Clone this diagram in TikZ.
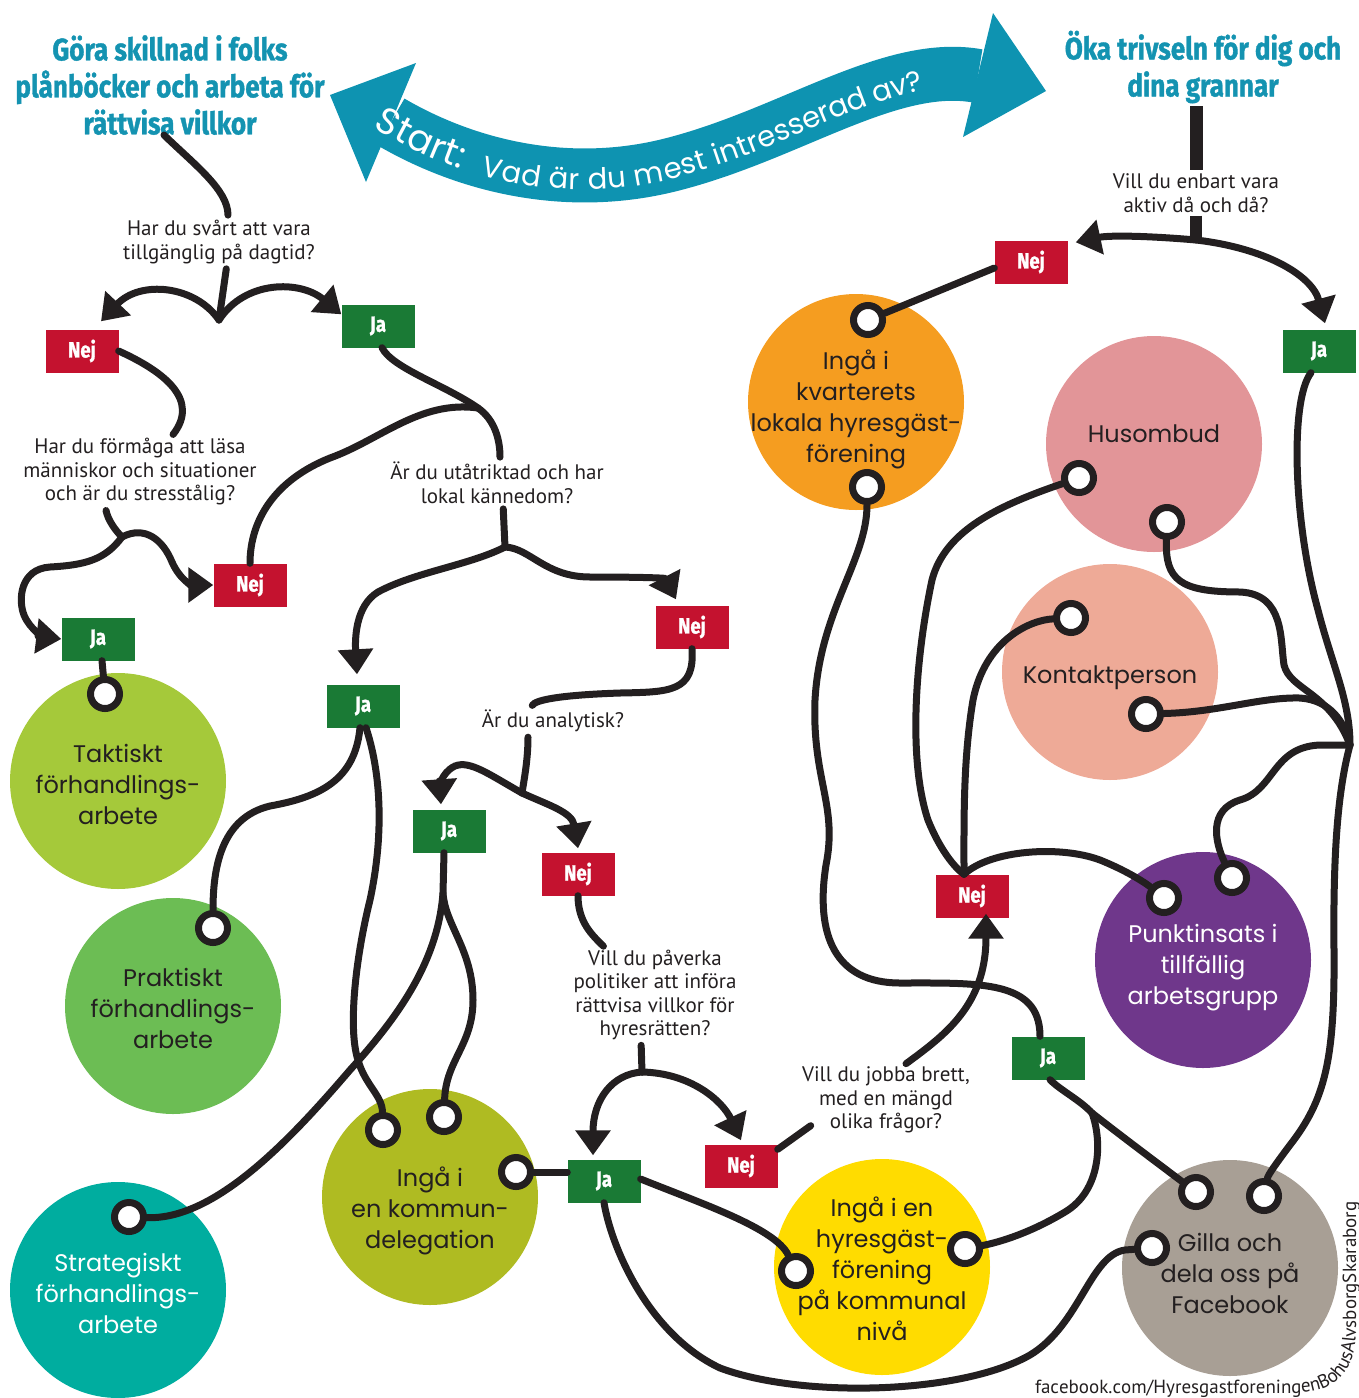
\documentclass[tikz,border=0pt]{standalone}
\usepackage{fontspec}
\usepackage{tikz}
\usetikzlibrary{arrows.meta}
\usetikzlibrary{decorations.text}
\setmainfont{PT Sans}
\newfontfamily\headfont{Fira Sans}[FakeStretch=0.84, BoldFeatures={FakeBold=1.2}]
\newfontfamily\handfont{Poppins}
\definecolor{headteal}{HTML}{1493B1}
\definecolor{bandteal}{HTML}{0E93B1}
\definecolor{nejred}{HTML}{C4122F}
\definecolor{jagreen}{HTML}{1A7A35}
\definecolor{wirecol}{HTML}{231F20}
\definecolor{taktgreen}{HTML}{A5C93A}
\definecolor{praktgreen}{HTML}{6CBD54}
\definecolor{strateal}{HTML}{00AD9F}
\definecolor{kommolive}{HTML}{AFBB22}
\definecolor{kvarorange}{HTML}{F59D20}
\definecolor{huspink}{HTML}{E29598}
\definecolor{kontsalmon}{HTML}{EEAA97}
\definecolor{punktpurple}{HTML}{6F378B}
\definecolor{nivayellow}{HTML}{FFDC00}
\definecolor{fbgrey}{HTML}{A89F95}

\tikzset{
  wire/.style={draw=wirecol, line width=7pt, line cap=round},
  arrowwire/.style={wire, -{Triangle[width=34pt,length=25pt]}},
  choice/.style={minimum width=73pt, minimum height=43pt, inner sep=0pt, text=white,
    font=\headfont\bfseries\fontsize{22}{22}\selectfont},
  ja/.style={choice, fill=jagreen},
  nej/.style={choice, fill=nejred},
  question/.style={align=center, inner sep=0pt, text=wirecol, font=\fontsize{21}{23.5}\selectfont},
  heading/.style={align=center, inner sep=0pt, text=headteal, font=\headfont\bfseries\fontsize{31}{37}\selectfont},
  answer/.style={circle, minimum size=216pt, inner sep=0pt},
  answertext/.style={align=center, inner sep=0pt, text=wirecol, font=\handfont\fontsize{24}{31}\selectfont},
  port/.style={circle, draw=wirecol, fill=white, line width=7pt, minimum size=29pt, inner sep=0pt}
}

\begin{document}
\begin{tikzpicture}[x=1pt, y=-1pt]
            \useasboundingbox (0,0) rectangle (1359,1398);

            \fill[bandteal] (330,95) -- (416,63) -- (366,182) -- cycle;
            \fill[bandteal] (1046,91) -- (993,13) -- (963,137) -- cycle;
            \draw[bandteal, line width=54pt] (391,122) .. controls (470,168) and (570,190) .. (670,165)
                .. controls (790,135) and (890,60) .. (978,76);
            \path[decorate, decoration={text along path, text color=white, raise=-14pt, text align={left indent=9pt},
                text={|\handfont\fontsize{37}{37}\selectfont|Start:{\kern9pt} |\handfont\fontsize{29}{29}\selectfont|Vad är du mest intresserad av?}}]
                (372,111) -- (391,122) .. controls (470,168) and (570,190) .. (670,165)
                .. controls (790,135) and (890,60) .. (978,76);

            \node[heading] (headL) at (170,85) {Göra skillnad i folks\\plånböcker och arbeta för\\rättvisa villkor};
            \node[heading] (headR) at (1203,67) {Öka trivseln för dig och\\dina grannar};

            \node[question] (q1) at (219,242) {Har du svårt att vara\\tillgänglig på dagtid?};
            \node[question] (q2) at (140,472) {Har du förmåga att läsa\\människor och situationer\\och är du stresstålig?};
            \node[question] (q3) at (497,483) {Är du utåtriktad och har\\lokal kännedom?};
            \node[question] (q4) at (553,721) {Är du analytisk?};
            \node[question] (q5) at (655,995) {Vill du påverka\\politiker att införa\\rättvisa villkor för\\hyresrätten?};
            \node[question] (q6) at (886,1100) {Vill du jobba brett,\\med en mängd\\olika frågor?};
            \node[question] (q7) at (1196,193) {Vill du enbart vara\\aktiv då och då?};

            \node[answer, fill=taktgreen, label={[answertext, yshift=-3pt]center:Taktiskt\\förhandlings-\\arbete}] (taktiskt) at (118,781) {};
            \node[answer, fill=praktgreen, label={[answertext, yshift=-2pt]center:Praktiskt\\förhandlings-\\arbete}] (praktiskt) at (173,1006) {};
            \node[answer, fill=strateal, label={[answertext, text=white, yshift=-3pt]center:Strategiskt\\förhandlings-\\arbete}] (strategiskt) at (118,1290) {};
            \node[answer, fill=kommolive, label={[answertext, yshift=-14pt]center:Ingå i\\en kommun-\\delegation}] (kommun) at (430,1197) {};
            \node[answer, fill=kvarorange, label={[answertext, yshift=-7pt]center:Ingå i\\kvarterets\\lokala hyresgäst-\\förening}] (kvarter) at (856,402) {};
            \node[answer, fill=huspink, label={[answertext, yshift=10pt]center:Husombud}] (husombud) at (1154,444) {};
            \node[answer, fill=kontsalmon, label={[answertext, yshift=-6pt]center:Kontaktperson}] (kontakt) at (1110,672) {};
            \node[answer, fill=punktpurple, label={[answertext, text=white, yshift=-8pt]center:Punktinsats i\\tillfällig\\arbetsgrupp}] (punkt) at (1203,960) {};
            \node[answer, fill=nivayellow, label={[answertext, yshift=-2pt]center:Ingå i en\\hyresgäst-\\förening\\på kommunal\\nivå}] (niva) at (882,1267) {};
            \node[answer, fill=fbgrey, label={[answertext, yshift=-5pt]center:Gilla och\\dela oss på\\Facebook}] (facebook) at (1230,1268) {};

            \node[port] (pT) at (105,694) {};
            \node[port] (pP) at (213,928) {};
            \node[port] (pS) at (129,1217) {};
            \node[port] (pK1) at (383,1130) {};
            \node[port] (pK2) at (444,1117) {};
            \node[port] (pK3) at (516,1172) {};
            \node[port] (pV1) at (868,320) {};
            \node[port] (pV2) at (867,487) {};
            \node[port] (pH1) at (1079,478) {};
            \node[port] (pH2) at (1167,522) {};
            \node[port] (pC1) at (1071,618) {};
            \node[port] (pC2) at (1146,714) {};
            \node[port] (pU1) at (1164,898) {};
            \node[port] (pU2) at (1232,878) {};
            \node[port] (pN1) at (796,1271) {};
            \node[port] (pN2) at (965,1249) {};
            \node[port] (pF1) at (1196,1192) {};
            \node[port] (pF2) at (1264,1196) {};
            \node[port] (pF3) at (1152,1248) {};

            \node[nej] (nej1) at (82,351) {Nej};
            \node[ja] (ja1) at (378,326) {Ja};
            \node[nej] (nej2) at (250,585) {Nej};
            \node[ja] (ja2) at (98,639) {Ja};
            \node[nej] (nej3) at (692,627) {Nej};
            \node[ja] (ja3) at (363,706) {Ja};
            \node[ja] (ja4) at (449,831) {Ja};
            \node[nej] (nej4) at (578,874) {Nej};
            \node[ja] (ja5) at (604,1181) {Ja};
            \node[nej] (nej5) at (741,1166) {Nej};
            \node[nej] (nej6) at (972,896) {Nej};
            \node[ja] (ja6) at (1048,1058) {Ja};
            \node[nej] (nej7) at (1031,262) {Nej};
            \node[ja] (ja7) at (1319,351) {Ja};

            \coordinate (j1) at (219,320);
            \coordinate (j2) at (122,537);
            \coordinate (j3) at (478,408);
            \coordinate (j4) at (505,547);
            \coordinate (j5) at (522,793);
            \coordinate (j6) at (443,893);
            \coordinate (j7) at (642,1072);
            \coordinate (j8) at (1196,240);
            \coordinate (j9) at (1092,1113);
            \coordinate (hub) at (1350,745);

            \draw[wire, shorten >=5pt] ([xshift=-6pt]headL.south) .. controls (195,165) and (228,190) .. ([xshift=9pt]q1.north);
            \draw[wire, shorten <=5pt] ([xshift=8pt]q1.south) -- (j1);
            \draw[arrowwire] (j1) .. controls (195,285) and (140,280) .. ([xshift=19pt,yshift=8pt]nej1.north);
            \draw[arrowwire] (j1) .. controls (245,280) and (300,280) .. ([yshift=-10pt]ja1.north west);
            \draw[wire, shorten >=5pt] (nej1.east) .. controls (165,372) and (200,400) .. ([xshift=30pt]q2.north);
            \draw[wire, shorten <=5pt] ([xshift=-35pt]q2.south) .. controls (108,520) and (115,530) .. (j2);
            \draw[arrowwire] (j2) .. controls (105,560) and (85,565) .. (50,567) .. controls (20,569) and (18,600) .. (24,615)
                .. controls (30,630) and (45,637) .. (ja2.west);
            \draw[arrowwire] (j2) .. controls (145,525) and (163,540) .. (172,562) .. controls (180,580) and (192,585) .. (nej2.west);
            \draw[wire] ([xshift=4pt]ja2.south) -- (pT);

            \draw[wire, shorten >=5pt] ([xshift=4pt]ja1.south) .. controls (392,368) and (445,385) .. (j3) .. controls (495,420) and (500,440) .. ([xshift=3pt]q3.north);
            \draw[wire] (j3) .. controls (420,400) and (380,440) .. (330,458) .. controls (275,480) and (250,520) .. (nej2.north);
            \draw[wire, shorten <=5pt] ([xshift=6pt]q3.south) -- (j4);
            \draw[arrowwire] (j4) .. controls (470,565) and (415,572) .. (378,592) .. controls (355,606) and (355,640) .. ([xshift=-6pt,yshift=10pt]ja3.north);
            \draw[arrowwire] (j4) .. controls (530,548) and (545,577) .. (590,577) .. controls (640,577) and (665,578) .. ([xshift=-16pt,yshift=6pt]nej3.north);
            \draw[wire, shorten >=5pt] (nej3.south) .. controls (695,692) and (670,692) .. (620,693) .. controls (560,695) and (535,700) .. ([xshift=-23pt]q4.north);
            \draw[wire, shorten <=5pt] ([xshift=-25pt]q4.south) .. controls (528,760) and (524,780) .. (j5);
            \draw[arrowwire] (j5) .. controls (490,775) and (470,760) .. (455,766) .. controls (440,773) and (440,790) .. ([xshift=-8pt,yshift=5pt]ja4.north);
            \draw[arrowwire] (j5) .. controls (548,805) and (572,812) .. ([yshift=4pt]nej4.north);

            \draw[wire] ([xshift=-3pt]ja3.south) .. controls (355,780) and (320,797) .. (270,806) .. controls (220,818) and (213,870) .. (pP);
            \draw[wire] ([xshift=3pt]ja3.south) .. controls (380,770) and (385,830) .. (370,900) .. controls (355,960) and (348,1030) .. (358,1060)
                .. controls (365,1085) and (382,1095) .. (pK1);
            \draw[wire] ([xshift=-5pt]ja4.south) -- (j6) .. controls (445,925) and (473,950) .. (473,1000) .. controls (473,1045) and (446,1060) .. (pK2);
            \draw[wire] (j6) .. controls (438,960) and (400,1015) .. (350,1070) .. controls (290,1140) and (215,1220) .. (pS);

            \draw[wire, shorten >=5pt] (nej4.south) .. controls (578,922) and (592,935) .. ([xshift=-48pt]q5.north);
            \draw[wire, shorten <=5pt] ([xshift=-14pt]q5.south) -- (j7);
            \draw[arrowwire] (j7) .. controls (612,1074) and (593,1100) .. ([xshift=-11pt,yshift=4pt]ja5.north);
            \draw[arrowwire] (j7) .. controls (690,1073) and (722,1100) .. ([yshift=4pt]nej5.north);
            \draw[wire] (pK3) -- (ja5.west |- pK3);
            \draw[wire] ([yshift=2pt]ja5.east) .. controls (700,1203) and (775,1228) .. (pN1);
            \draw[wire] (ja5.south) .. controls (612,1250) and (650,1335) .. (720,1368) .. controls (800,1398) and (960,1395) .. (1030,1355)
                .. controls (1080,1325) and (1090,1255) .. (1125,1250) -- (pF3);
            \draw[wire, shorten >=4pt] ([yshift=-5pt]nej5.north east) -- ([xshift=12pt,yshift=10pt]q6.south west);
            \draw[arrowwire, shorten <=5pt] ([xshift=16pt]q6.north) .. controls (945,1035) and (986,1005) .. ([xshift=14pt,yshift=4pt]nej6.south);

            \draw[wire, line width=13pt, line cap=butt, shorten >=3pt] ([xshift=-7pt,yshift=-3pt]headR.south) -- (q7.north);
            \draw[wire, line width=12pt, line cap=butt, shorten <=3pt] (q7.south) -- (j8);
            \draw[arrowwire] (j8) .. controls (1150,236) and (1110,235) .. ([xshift=8pt,yshift=-2pt]nej7.north east);
            \draw[arrowwire] (j8) .. controls (1265,248) and (1312,275) .. ([xshift=6pt,yshift=6pt]ja7.north);
            \draw[wire] ([yshift=-6pt]nej7.west) -- (pV1);
            \draw[wire] (pV2) .. controls (867,560) and (820,610) .. (815,700) .. controls (812,780) and (838,805) .. (826,865)
                .. controls (815,935) and (835,983) .. (900,983) .. controls (980,983) and (1040,980) .. ([xshift=-8pt]ja6.north);
            \draw[wire] ([xshift=2pt]ja6.south) .. controls (1060,1090) and (1080,1100) .. (j9);
            \draw[wire] (j9) .. controls (1102,1140) and (1102,1190) .. (1065,1212) .. controls (1030,1233) and (1000,1242) .. (pN2);
            \draw[wire] (j9) .. controls (1120,1135) and (1160,1165) .. (pF1);

            \draw[wire] (pH1) .. controls (1000,505) and (945,530) .. (932,580) .. controls (915,660) and (908,760) .. (928,820)
                .. controls (940,850) and (955,868) .. ([xshift=-8pt]nej6.north);
            \draw[wire] (pC1) .. controls (1030,620) and (985,640) .. (973,700) .. controls (963,760) and (964,820) .. ([xshift=-8pt]nej6.north);
            \draw[wire] ([xshift=-8pt]nej6.north) .. controls (990,850) and (1060,845) .. (1100,860) .. controls (1130,872) and (1148,885) .. (pU1);

            \draw[wire] ([xshift=-8pt]ja7.south) .. controls (1290,400) and (1293,520) .. (1318,610) .. controls (1332,665) and (1350,700) .. (hub)
                .. controls (1338,790) and (1333,850) .. (1334,950) .. controls (1335,1060) and (1325,1100) .. (1290,1145)
                .. controls (1275,1165) and (1268,1175) .. (pF2);
            \draw[wire] (pH2) .. controls (1165,580) and (1180,592) .. (1240,592) .. controls (1285,594) and (1280,640) .. (1284,665)
                .. controls (1290,690) and (1330,692) .. (hub);
            \draw[wire] (pC2) .. controls (1220,712) and (1260,697) .. (1300,698) .. controls (1330,700) and (1345,722) .. (hub);
            \draw[wire] (pU2) .. controls (1215,842) and (1208,810) .. (1240,800) .. controls (1275,790) and (1272,747) .. (1320,745) -- (hub);

            \path[decorate, decoration={text along path, text color=wirecol,
                text={|\fontsize{19}{19}\selectfont|facebook.com/HyresgastforeningenBohusAlvsborgSkaraborg}}]
                (1035,1393) -- (1295,1393) .. controls (1338,1393) and (1356,1370) .. (1356,1328) -- (1356,1160);
\end{tikzpicture}
\end{document}
